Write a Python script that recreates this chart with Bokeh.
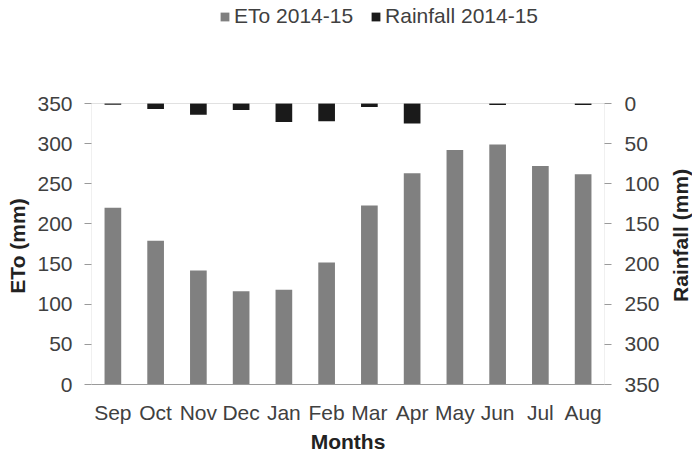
from math import pi
from bokeh.plotting import figure
from bokeh.layouts import row
from bokeh.models import (Range1d, LinearAxis, Legend, LegendItem, Label,
                          FixedTicker, ColumnDataSource, BoxAnnotation)
from bokeh.embed import file_html
from bokeh.resources import INLINE

months = ["Sep", "Oct", "Nov", "Dec", "Jan", "Feb", "Mar", "Apr", "May", "Jun", "Jul", "Aug"]
eto = [220, 179, 142, 116, 118, 152, 223, 263, 292, 299, 272, 262]
rainfall = [1.5, 7, 14, 8, 23, 22, 4.5, 25, 0, 2, 0, 2]
y_ticks = [0, 50, 100, 150, 200, 250, 300, 350]
Y_MAX = 350

FONT = "Liberation Sans"
TXT = "#404040"
TITLE = "#222222"
AX = "#9a9a9a"
FS = "21px"
PAD = "\u00a0" * 18

H = 456
# frame extends above the 350 line to host the legend
FRAME_H = 382
DATA_H = 281
TOP_EXT = Y_MAX * FRAME_H / DATA_H

src = ColumnDataSource(dict(m=months, eto=eto, rain=rainfall, zero=[0] * len(months)))

p = figure(x_range=months, y_range=Range1d(0, TOP_EXT), width=662, height=H,
           output_backend="svg", toolbar_location=None,
           min_border_left=91, min_border_right=58, min_border_top=2,
           min_border_bottom=H - 2 - FRAME_H)
p.extra_y_ranges = {"rain": Range1d(Y_MAX, Y_MAX - TOP_EXT)}

r_eto = p.vbar(x="m", top="eto", bottom=0, width=0.39, source=src,
               fill_color="#808080", line_color=None)
r_rain = p.vbar(x="m", top="zero", bottom="rain", width=0.39, source=src,
                y_range_name="rain", fill_color="#1a1a1a", line_color=None)

p.grid.visible = False
p.outline_line_color = None
p.add_layout(BoxAnnotation(bottom=0, top=Y_MAX, fill_alpha=0, line_color=AX, line_width=1))

legend = Legend(items=[LegendItem(label="ETo 2014-15", renderers=[r_eto]),
                       LegendItem(label="Rainfall 2014-15", renderers=[r_rain])],
                orientation="horizontal", location=(128, 356),
                glyph_width=11, glyph_height=11, label_standoff=4, spacing=17,
                padding=0, margin=0, background_fill_alpha=0, border_line_color=None,
                label_text_font=FONT, label_text_font_size=FS, label_text_color=TXT)
p.add_layout(legend, "center")

# left axis
ya = p.yaxis[0]
ya.ticker = FixedTicker(ticks=y_ticks)
ya.axis_line_color = None
ya.major_tick_line_color = AX
ya.major_tick_out = 7
ya.major_tick_in = 0
ya.minor_tick_line_color = None
ya.major_label_standoff = 12
ya.major_label_text_font = FONT
ya.major_label_text_font_size = FS
ya.major_label_text_color = TXT
ya.axis_label = "ETo (mm)" + PAD
ya.axis_label_standoff = 5
ya.axis_label_text_font = FONT
ya.axis_label_text_font_size = FS
ya.axis_label_text_font_style = "bold"
ya.axis_label_text_color = TITLE

# right axis
ra = LinearAxis(y_range_name="rain", ticker=FixedTicker(ticks=y_ticks))
ra.axis_line_color = None
ra.major_tick_line_color = AX
ra.major_tick_out = 7
ra.major_tick_in = 0
ra.minor_tick_line_color = None
ra.major_label_standoff = 13
ra.major_label_text_font = FONT
ra.major_label_text_font_size = FS
ra.major_label_text_color = TXT
p.add_layout(ra, "right")

# x axis
xa = p.xaxis[0]
xa.axis_line_color = AX
xa.major_tick_line_color = None
xa.minor_tick_line_color = None
xa.major_label_standoff = 10
xa.major_label_text_font = FONT
xa.major_label_text_font_size = FS
xa.major_label_text_color = TXT
xa.axis_label = "Months"
xa.axis_label_standoff = 3
xa.axis_label_text_font = FONT
xa.axis_label_text_font_size = FS
xa.axis_label_text_font_style = "bold"
xa.axis_label_text_color = TITLE

# narrow strip on the right carrying the secondary axis title
SIDE_W = 30
side = figure(width=SIDE_W, height=H, x_range=Range1d(0, SIDE_W), y_range=Range1d(0, H),
              x_axis_type=None, y_axis_type=None, output_backend="svg",
              toolbar_location=None, min_border=0, outline_line_color=None)
side.add_layout(Label(x=18, y=178, text="Rainfall (mm)", angle=pi / 2,
                      text_align="center", text_baseline="middle", text_font=FONT,
                      text_font_size=FS, text_font_style="bold", text_color=TITLE))

layout = row(p, side)
open("out.html", "w").write(file_html(layout, INLINE))
